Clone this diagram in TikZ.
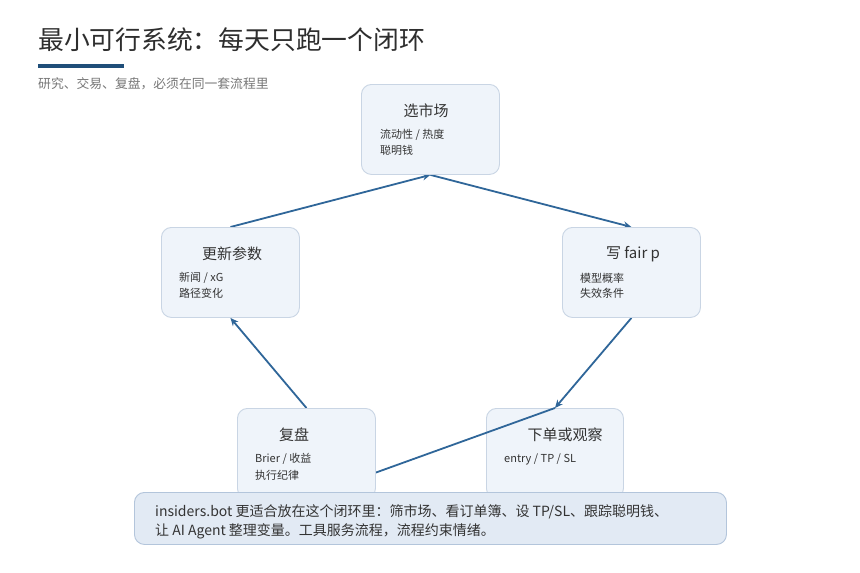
\documentclass[tikz,border=0pt]{standalone}
\usepackage{fontspec}
\setmainfont{Noto Sans CJK SC}
\newfontfamily\cjk{Noto Sans CJK SC}
\usetikzlibrary{arrows.meta,backgrounds}
\definecolor{titlec}{HTML}{2E2E2E}
\definecolor{subc}{HTML}{777777}
\definecolor{barc}{HTML}{1F4E79}
\definecolor{boxfill}{HTML}{EFF4FA}
\definecolor{boxline}{HTML}{C9D5E4}
\definecolor{notefill}{HTML}{E2EAF4}
\definecolor{noteline}{HTML}{B3C5DB}
\definecolor{arrc}{HTML}{2F6699}
\definecolor{textc}{HTML}{333333}
\tikzset{
  x=1pt,y=-1pt,
  stepbox/.style={draw=boxline, line width=0.9pt, fill=boxfill, rounded corners=10pt,
    minimum width=138pt, minimum height=90pt, anchor=north west, inner sep=0pt},
  boxtitle/.style={font=\cjk\fontsize{15}{18}\selectfont, text=textc, inner sep=0pt},
  boxsub/.style={font=\cjk\fontsize{11}{13}\selectfont, text=textc, inner sep=0pt, anchor=west},
  arr/.style={draw=arrc, line width=1.8pt, -{Stealth[length=8pt,width=7pt]}},
  notebox/.style={draw=noteline, line width=0.9pt, fill=notefill, rounded corners=10pt,
    minimum width=592pt, minimum height=52pt, anchor=north west, inner sep=0pt},
  notetext/.style={font=\cjk\fontsize{14}{17}\selectfont, text=textc, inner sep=0pt, anchor=west},
}
\begin{document}
\begin{tikzpicture}
\useasboundingbox (0,0) rectangle (860,573);
% title block
\node[anchor=west, inner sep=0pt, font=\cjk\fontsize{25.8}{30}\selectfont, text=titlec] (title) at (38,40) {最小可行系统：每天只跑一个闭环};
\node[fill=barc, minimum width=86pt, minimum height=4pt, inner sep=0pt, anchor=north west] (bar) at (38,64) {};
\node[anchor=west, inner sep=0pt, font=\cjk\fontsize{12.8}{15}\selectfont, text=subc] (subtitle) at (38,84) {研究、交易、复盘，必须在同一套流程里};
% boxes
\node[stepbox] (pick) at (361,84) {};
\node[boxtitle] (pickT) at (426,111) {选市场};
\node[boxsub] (pickS1) at (380,135) {流动性 / 热度};
\node[boxsub] (pickS2) at (380,150) {聪明钱};

\node[stepbox] (update) at (161,227) {};
\node[boxtitle] (updateT) at (232,254) {更新参数};
\node[boxsub] (updateS1) at (179,278) {新闻 / xG};
\node[boxsub] (updateS2) at (179,293) {路径变化};

\node[stepbox] (fair) at (562,227) {};
\node[boxtitle] (fairT) at (633,254) {写 fair p};
\node[boxsub] (fairS1) at (580,278) {模型概率};
\node[boxsub] (fairS2) at (580,293) {失效条件};

\node[stepbox, minimum width=137pt] (order) at (486,408) {};
\node[boxtitle] (orderT) at (565,435) {下单或观察};
\node[boxsub] (orderS1) at (504,459) {entry / TP / SL};

% this connector runs over the order box and under the review box
\coordinate (fupanIn) at (363,477.2);
\draw[arr] (order.north) -- (fupanIn);

\node[stepbox] (fupan) at (237,408) {};
\node[boxtitle] (fupanT) at (294,435) {复盘};
\node[boxsub] (fupanS1) at (255,459) {Brier / 收益};
\node[boxsub] (fupanS2) at (255,475) {执行纪律};

% connectors behind boxes
\begin{pgfonlayer}{background}
\fill[white] (0,0) rectangle (860,573);
\draw[arr] (fupan.north) -- (update.south);
\draw[arr] (update.north) -- (pick.south);
\draw[arr] (pick.south) -- (fair.north);
\draw[arr] (fair.south) -- (order.north);
\end{pgfonlayer}

% note
\node[notebox] (note) at (134,492) {};
\node[notetext] (note1) at (155,512) {insiders.bot 更适合放在这个闭环里：筛市场、看订单簿、设 TP/SL、跟踪聪明钱、};
\node[notetext] (note2) at (155,531) {让 AI Agent 整理变量。工具服务流程，流程约束情绪。};
\end{tikzpicture}
\end{document}
